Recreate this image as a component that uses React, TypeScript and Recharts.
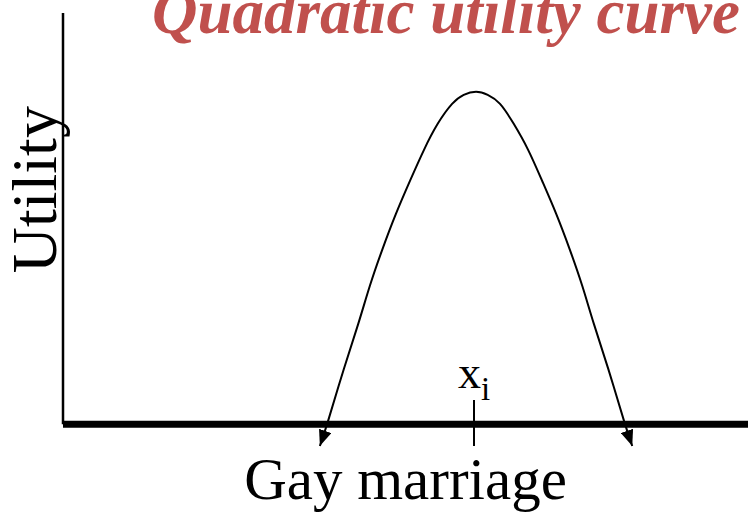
import { LineChart, Line, XAxis, YAxis, ReferenceLine, Label } from "recharts";

// position on the issue (x) and utility (y)
const position = [3.75, 3.87, 4.1, 4.31, 4.48, 4.66, 4.86, 5.07, 5.27, 5.47, 5.68, 5.85, 6.03, 6.2, 6.38, 6.58, 6.79, 6.99, 7.2, 7.4, 7.58, 7.75, 7.96, 8.19, 8.31];
const utility = [-0.5, 0.08, 1.28, 2.32, 3.2, 4.03, 4.86, 5.64, 6.34, 6.94, 7.4, 7.61, 7.68, 7.61, 7.4, 6.94, 6.34, 5.64, 4.86, 4.03, 3.2, 2.32, 1.28, 0.08, -0.5];

const idealPoint = 6.0;
const xDomain = [0, 10];
const yDomain = [-0.5, 9.5];

const data = position.map((x, i) => ({ x, u: utility[i] }));

const SERIF = '"Liberation Serif", "Times New Roman", serif';

// eslint-disable-next-line @typescript-eslint/no-explicit-any
function XiLabel({ viewBox }: any) {
  if (!viewBox) return null;
  return (
    <text x={viewBox.x - 16} y={viewBox.y - 12} fontFamily={SERIF} fontSize={46} fill="#000">
      x
      <tspan fontSize={33} dy={12}>i</tspan>
    </text>
  );
}

// eslint-disable-next-line @typescript-eslint/no-explicit-any
function UtilityLabel({ viewBox }: any) {
  if (!viewBox) return null;
  const cx = 56;
  const cy = viewBox.y + viewBox.height * 0.408;
  return (
    <text x={cx} y={cy} transform={`rotate(-90, ${cx}, ${cy})`} textAnchor="middle" fontFamily={SERIF} fontSize={64} fill="#000">
      Utility
    </text>
  );
}

export default function App() {
  return (
    <div style={{ position: "absolute", left: 0, top: 0, background: "#fff" }}>
      <LineChart width={748} height={518} data={data} margin={{ top: 13, right: 0, bottom: 0, left: 0 }}>
        <defs>
          <marker
            id="arrowHead"
            viewBox="0 0 16 13"
            refX={16}
            refY={6.5}
            markerWidth={16}
            markerHeight={13}
            markerUnits="userSpaceOnUse"
            orient="auto-start-reverse"
          >
            <path d="M0,0 L16,6.5 L0,13 z" fill="#000" />
          </marker>
        </defs>

        <text x={152} y={33} fontFamily={SERIF} fontSize={63} fontWeight="bold" fontStyle="italic" fill="#C0504D">
          Quadratic utility curve
        </text>

        <XAxis
          type="number"
          dataKey="x"
          domain={xDomain}
          axisLine={false}
          tickLine={false}
          tick={false}
          height={72}
        >
          <Label value="Gay marriage" position="insideTop" offset={11} fontFamily={SERIF} fontSize={59} fill="#000" />
        </XAxis>
        <YAxis type="number" domain={yDomain} axisLine={false} tickLine={false} tick={false} width={63}>
          <Label content={<UtilityLabel />} />
        </YAxis>

        <ReferenceLine
          segment={[{ x: 0, y: 0 }, { x: 0, y: yDomain[1] }]}
          stroke="#000"
          strokeWidth={2.5}
        />
        <ReferenceLine y={0} stroke="#000" strokeWidth={7} />
        <ReferenceLine
          segment={[{ x: idealPoint, y: -0.5 }, { x: idealPoint, y: 0.56 }]}
          stroke="#000"
          strokeWidth={2}
          label={<XiLabel />}
        />

        <Line
          type="natural"
          dataKey="u"
          stroke="#000"
          strokeWidth={2}
          dot={false}
          activeDot={false}
          markerStart="url(#arrowHead)"
          markerEnd="url(#arrowHead)"
          isAnimationActive={false}
        />
      </LineChart>
    </div>
  );
}
